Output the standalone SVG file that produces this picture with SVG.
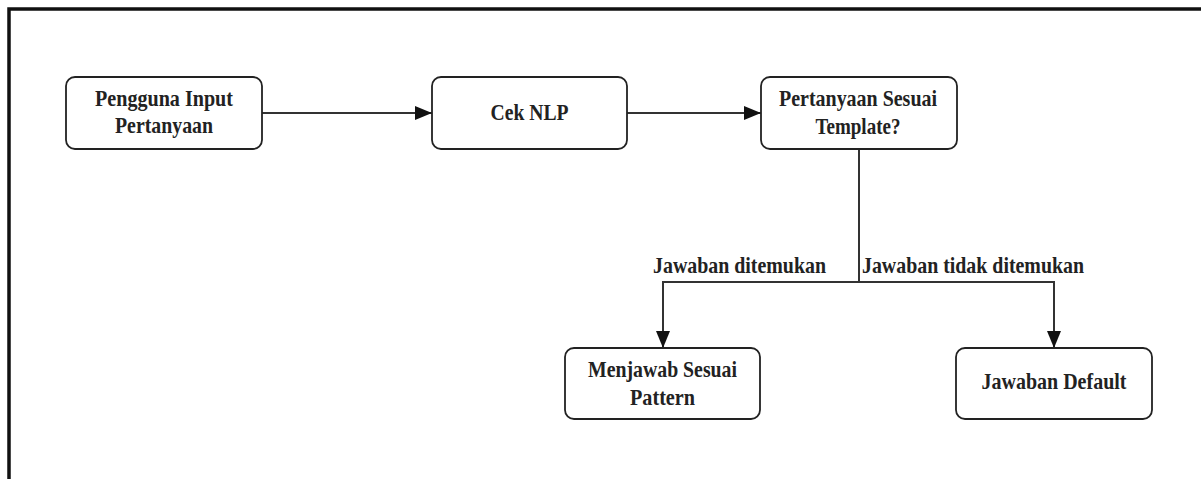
<svg xmlns="http://www.w3.org/2000/svg" width="1201" height="479" viewBox="0 0 1201 479">
  <defs>
    <marker id="arrow" markerUnits="userSpaceOnUse" markerWidth="18" markerHeight="15" refX="17" refY="7.5" orient="auto">
      <path d="M0,0.5 L17,7.5 L0,14.5 Z" fill="#111"/>
    </marker>
    <style>
      .node rect { fill: #fff; stroke: #222; stroke-width: 1.8; }
      .node text, .label { font-family: "Liberation Serif", "Times New Roman", serif; font-weight: bold; font-size: 23px; fill: #222; }
      .node text { text-anchor: middle; }
      .edge { fill: none; stroke: #333; stroke-width: 2; }
      .frame { fill: none; stroke: #111; stroke-width: 3.5; }
    </style>
  </defs>

  <rect width="1201" height="479" fill="#fff"/>

  <!-- outer frame: top and left edges -->
  <path class="frame" d="M9,479 L9,9 L1201,9"/>

  <!-- connectors -->
  <g id="connectors">
    <path class="edge" d="M262,113 L432,113" marker-end="url(#arrow)"/>
    <path class="edge" d="M627,113 L761,113" marker-end="url(#arrow)"/>
    <path class="edge" d="M859,149 L859,282"/>
    <path class="edge" d="M859,282 L663,282 L663,348" marker-end="url(#arrow)"/>
    <path class="edge" d="M859,282 L1054,282 L1054,348" marker-end="url(#arrow)"/>
    <text class="label" x="653" y="273" textLength="173" lengthAdjust="spacingAndGlyphs">Jawaban ditemukan</text>
    <text class="label" x="862" y="273" textLength="222" lengthAdjust="spacingAndGlyphs">Jawaban tidak ditemukan</text>
  </g>

  <g id="node-input" class="node">
    <rect x="66" y="77" width="196" height="72" rx="9"/>
    <text x="164" y="106" textLength="138" lengthAdjust="spacingAndGlyphs">Pengguna Input</text>
    <text x="164" y="133" textLength="98" lengthAdjust="spacingAndGlyphs">Pertanyaan</text>
  </g>

  <g id="node-nlp" class="node">
    <rect x="432" y="77" width="195" height="72" rx="9"/>
    <text x="529.5" y="120" textLength="78" lengthAdjust="spacingAndGlyphs">Cek NLP</text>
  </g>

  <g id="node-template" class="node">
    <rect x="761" y="77" width="196" height="72" rx="9"/>
    <text x="858" y="106" textLength="158" lengthAdjust="spacingAndGlyphs">Pertanyaan Sesuai</text>
    <text x="858" y="134" textLength="85" lengthAdjust="spacingAndGlyphs">Template?</text>
  </g>

  <g id="node-pattern" class="node">
    <rect x="565" y="348" width="195" height="71" rx="9"/>
    <text x="662.5" y="377" textLength="149" lengthAdjust="spacingAndGlyphs">Menjawab Sesuai</text>
    <text x="662.5" y="405" textLength="65" lengthAdjust="spacingAndGlyphs">Pattern</text>
  </g>

  <g id="node-default" class="node">
    <rect x="956" y="348" width="196" height="71" rx="9"/>
    <text x="1054" y="389" textLength="145" lengthAdjust="spacingAndGlyphs">Jawaban Default</text>
  </g>
</svg>
